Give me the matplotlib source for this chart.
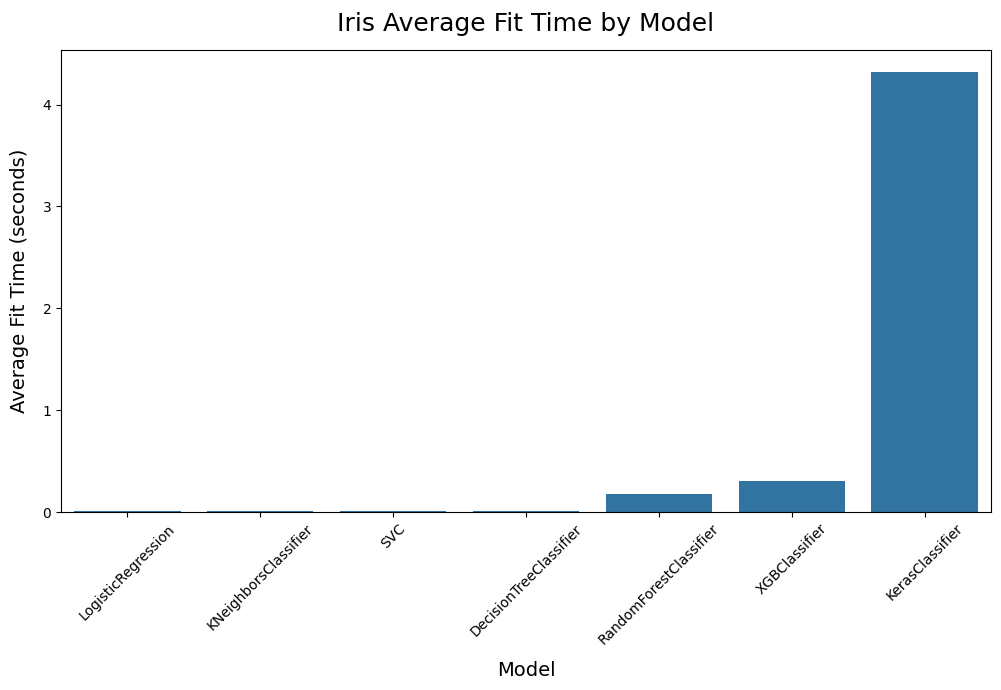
import matplotlib
matplotlib.use("Agg")
import matplotlib.pyplot as plt
import seaborn as sns
import pandas as pd

models = ["LogisticRegression", "KNeighborsClassifier", "SVC", "DecisionTreeClassifier",
          "RandomForestClassifier", "XGBClassifier", "KerasClassifier"]
fit_times = [0.012, 0.010, 0.011, 0.010, 0.177, 0.305, 4.32]

df = pd.DataFrame({"Model": models, "Average Fit Time": fit_times})

fig = plt.figure(figsize=(10.01, 6.9), dpi=100)
ax = fig.add_axes([61/1001, 1-512/690, 930/1001, 462/690])
sns.barplot(data=df, x="Model", y="Average Fit Time", ax=ax, color="#1f77b4", saturation=0.75)
ax.set_title("Iris Average Fit Time by Model", fontsize=18, pad=14)
ax.set_xlabel("Model", fontsize=14, labelpad=10)
ax.set_ylabel("Average Fit Time (seconds)", fontsize=14, labelpad=10)
plt.setp(ax.get_xticklabels(), rotation=45)
fig.savefig("out.png", dpi=100)
